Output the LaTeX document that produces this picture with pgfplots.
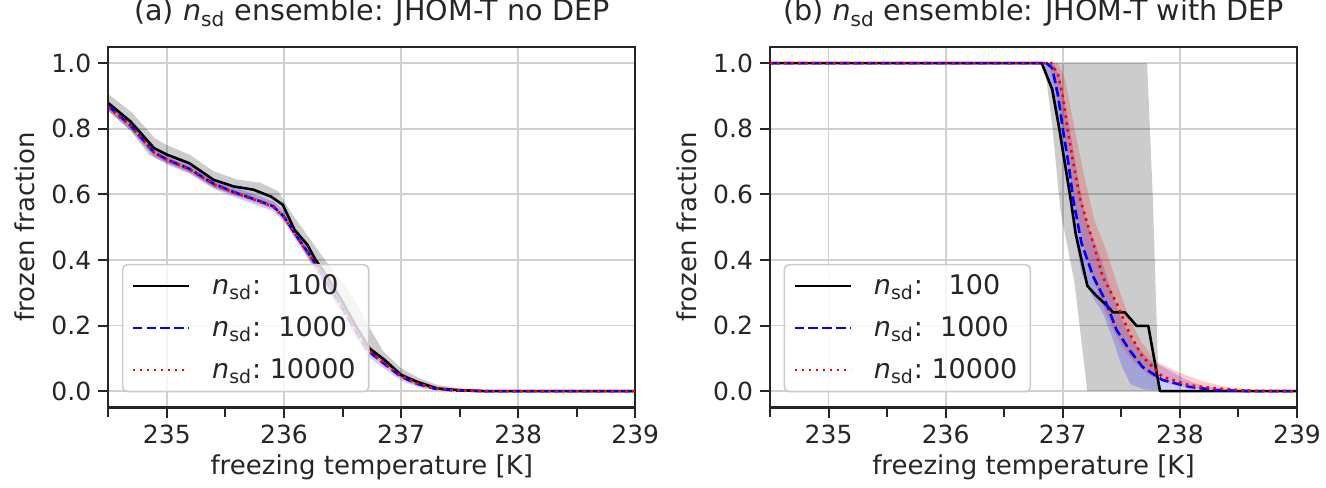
\documentclass[border=0pt]{standalone}
\usepackage{fontspec}
\setmainfont{DejaVu Sans}
\usepackage{pgfplots}
\pgfplotsset{compat=1.18}
\definecolor{textgray}{HTML}{262626}
\definecolor{gridgray}{HTML}{D0D0D0}

\pgfplotsset{
  panel/.style={
    scale only axis, width=263.5pt, height=180.4pt,
    xmin=234.5, xmax=239, ymin=-0.05, ymax=1.05,
    xtick={235,236,237,238,239},
    minor xtick={234.5,235.5,236.5,237.5,238.5},
    ytick={0,0.2,0.4,0.6,0.8,1},
    grid=major, major grid style={draw=gridgray, line width=0.9pt},
    axis line style={draw=textgray, line width=1.1pt},
    tick pos=left, tick align=outside,
    major tick length=5pt, minor tick length=4.5pt,
    every tick/.append style={draw=textgray, line width=1pt},
    /pgf/number format/assume math mode=true,
    tick label style={font=\fontsize{12.5}{15}\selectfont, text=textgray},
    yticklabel style={/pgf/number format/.cd, fixed, fixed zerofill, precision=1},
    xticklabel style={/pgf/number format/.cd, 1000 sep={}},
    label style={font=\fontsize{13}{15.5}\selectfont, text=textgray},
    xlabel style={at={(axis description cs:0.5,-0.166)}, anchor=center},
    ylabel style={at={(axis description cs:-0.1575,0.5)}, anchor=center},
    title style={at={(axis description cs:0.5,1.038)}, anchor=base, font=\fontsize{14.3}{16}\selectfont, text=textgray},
    xlabel={freezing temperature [K]}, ylabel={frozen fraction},
    legend cell align={left},
    legend style={at={(axis description cs:0.0256,0.0416)}, anchor=south west,
      draw=black!20, line width=0.8pt, rounded corners=2.5pt,
      fill=white, fill opacity=0.8, text opacity=1,
      font=\fontsize{13.5}{16}\selectfont, text=textgray,
      row sep=5.5pt, inner xsep=4.5pt, inner ysep=3pt,
      /tikz/every odd column/.append style={column sep=9pt}},
  },
  leg/.style={legend image code/.code={\draw[##1] (0pt,0pt) -- (28pt,0pt);}},
  n100/.style={leg, black, line width=1.3pt, line join=round},
  n1000/.style={leg, blue, line width=1.3pt, dash pattern=on 4.8pt off 2.1pt, line join=round},
  n10000/.style={leg, red, line width=1.3pt, dash pattern=on 1.3pt off 2.2pt, line join=round},
  myband/.style={draw=none, fill=#1, fill opacity=0.2, forget plot},
}

\begin{document}
\begin{tikzpicture}
\path[use as bounding box] (-54.15pt,-39.75pt) rectangle (608.85pt,203.75pt);

% ---------------- (a) no DEP
\begin{axis}[panel, at={(0pt,0pt)}, anchor=south west,
  title={(a) {\itshape n}\textsubscript{sd} ensemble: JHOM-T no DEP}]
% spread of the ensembles: upper edge, then lower edge backwards
\addplot[myband=black] coordinates {(234.5,0.905) (234.7,0.85) (234.9,0.77) (235.0,0.75) (235.2,0.72) (235.4,0.67) (235.6,0.645) (235.8,0.635) (235.95,0.61) (236.05,0.55) (236.15,0.50) (236.25,0.45) (236.35,0.40) (236.5,0.33) (236.62,0.27) (236.72,0.20) (236.85,0.12) (237.0,0.07) (237.15,0.04) (237.3,0.02) (237.5,0.008) (237.7,0.0)
  (237.4,0.0) (237.2,0.01) (237.05,0.03) (236.9,0.07) (236.75,0.115) (236.62,0.18) (236.5,0.25) (236.35,0.32) (236.25,0.38) (236.15,0.44) (236.05,0.51) (235.95,0.56) (235.8,0.58) (235.6,0.595) (235.4,0.62) (235.2,0.665) (235.0,0.695) (234.85,0.72) (234.7,0.79) (234.5,0.855)} -- cycle;
\addplot[myband=blue] coordinates {(234.5,0.884) (234.69,0.825) (234.89,0.743) (235.0,0.721) (235.19,0.693) (235.4,0.647) (235.57,0.622) (235.8,0.593) (235.91,0.578) (236.0,0.547) (236.11,0.488) (236.23,0.428) (236.37,0.35) (236.49,0.28) (236.6,0.21) (236.71,0.145) (236.85,0.10) (237.0,0.058) (237.14,0.032) (237.28,0.014) (237.45,0.005) (237.7,0.001)
  (237.7,0) (237.45,0) (237.28,0.003) (237.14,0.013) (237.0,0.032) (236.85,0.07) (236.71,0.108) (236.6,0.172) (236.49,0.238) (236.37,0.31) (236.23,0.392) (236.11,0.455) (236.0,0.517) (235.91,0.548) (235.8,0.563) (235.57,0.592) (235.4,0.617) (235.19,0.663) (235.0,0.691) (234.89,0.713) (234.69,0.795) (234.5,0.854)} -- cycle;
\addplot[myband=red] coordinates {(234.5,0.874) (234.69,0.816) (234.89,0.735) (235.0,0.713) (235.19,0.685) (235.4,0.638) (235.57,0.614) (235.8,0.585) (235.91,0.570) (236.0,0.538) (236.11,0.478) (236.23,0.416) (236.37,0.338) (236.49,0.268) (236.6,0.20) (236.71,0.136) (236.85,0.095) (237.0,0.052) (237.14,0.028) (237.28,0.012) (237.45,0.004) (237.7,0)
  (237.45,0.001) (237.28,0.006) (237.14,0.018) (237.0,0.04) (236.85,0.079) (236.71,0.12) (236.6,0.184) (236.49,0.252) (236.37,0.322) (236.23,0.40) (236.11,0.462) (236.0,0.522) (235.91,0.554) (235.8,0.569) (235.57,0.598) (235.4,0.622) (235.19,0.669) (235.0,0.697) (234.89,0.719) (234.69,0.80) (234.5,0.858)} -- cycle;

\addplot[n100] coordinates {(234.5,0.878) (234.69,0.822) (234.89,0.741) (235.0,0.721) (235.19,0.695) (235.4,0.644) (235.57,0.624) (235.74,0.614) (235.89,0.593) (235.99,0.568) (236.09,0.492) (236.2,0.446) (236.27,0.40) (236.37,0.349) (236.49,0.278) (236.6,0.207) (236.73,0.13) (236.86,0.095) (237.0,0.049) (237.14,0.028) (237.31,0.008) (237.49,0.003) (237.71,0.0) (239,0)};
\addlegendentry{{\itshape n}\textsubscript{sd}:\ \ \ 100}
\addplot[n1000] coordinates {(234.5,0.869) (234.69,0.81) (234.89,0.728) (235.0,0.706) (235.19,0.678) (235.4,0.632) (235.57,0.607) (235.8,0.578) (235.91,0.563) (236.0,0.532) (236.11,0.471) (236.23,0.41) (236.37,0.33) (236.49,0.258) (236.6,0.19) (236.71,0.125) (236.85,0.085) (237.0,0.044) (237.14,0.022) (237.28,0.008) (237.45,0.002) (237.7,0) (239,0)};
\addlegendentry{{\itshape n}\textsubscript{sd}:\ \ 1000}
\addplot[n10000] coordinates {(234.5,0.866) (234.69,0.808) (234.89,0.727) (235.0,0.705) (235.19,0.677) (235.4,0.63) (235.57,0.606) (235.8,0.577) (235.91,0.562) (236.0,0.53) (236.11,0.47) (236.23,0.408) (236.37,0.33) (236.49,0.26) (236.6,0.192) (236.71,0.128) (236.85,0.087) (237.0,0.046) (237.14,0.023) (237.28,0.009) (237.45,0.003) (237.7,0) (239,0)};
\addlegendentry{{\itshape n}\textsubscript{sd}:\ 10000}
\end{axis}

% ---------------- (b) with DEP
\begin{axis}[panel, at={(330.85pt,0pt)}, anchor=south west,
  title={(b) {\itshape n}\textsubscript{sd} ensemble: JHOM-T with DEP}]
\addplot[myband=black] coordinates {(236.82,1) (237.72,1) (237.77,0.58) (237.82,0) (237.21,0) (237.1,0.33) (236.98,0.55) (236.91,0.81) (236.86,0.95)} -- cycle;
\addplot[myband=blue] coordinates {(236.84,1) (236.92,1) (236.98,0.95) (237.06,0.80) (237.13,0.65) (237.2,0.52) (237.33,0.40) (237.42,0.30) (237.5,0.22) (237.6,0.15) (237.74,0.095) (237.9,0.065) (238.05,0.035) (238.2,0.015) (238.5,0.003) (238.7,0)
  (238.0,0) (237.7,0.005) (237.58,0.02) (237.5,0.08) (237.43,0.156) (237.34,0.24) (237.25,0.29) (237.16,0.36) (237.08,0.52) (237.02,0.66) (236.95,0.82) (236.88,0.95)} -- cycle;
\addplot[myband=red] coordinates {(236.88,1) (236.96,1) (237.02,0.95) (237.1,0.80) (237.18,0.66) (237.27,0.52) (237.37,0.43) (237.47,0.32) (237.57,0.22) (237.67,0.15) (237.8,0.09) (238.0,0.055) (238.2,0.03) (238.4,0.012) (238.7,0.002) (238.9,0)
  (238.5,0) (238.2,0.005) (237.95,0.018) (237.75,0.045) (237.6,0.09) (237.5,0.14) (237.4,0.21) (237.3,0.30) (237.2,0.41) (237.13,0.52) (237.06,0.66) (237.0,0.80) (236.93,0.93)} -- cycle;

\addplot[n100] coordinates {(234.5,1) (236.82,1) (236.91,0.92) (236.97,0.80) (237.02,0.69) (237.07,0.58) (237.11,0.48) (237.16,0.40) (237.21,0.321) (237.28,0.293) (237.37,0.263) (237.43,0.240) (237.53,0.240) (237.63,0.199) (237.73,0.199) (237.83,0.0) (239,0)};
\addlegendentry{{\itshape n}\textsubscript{sd}:\ \ \ 100}
\addplot[n1000] coordinates {(234.5,1) (236.86,1) (236.91,0.985) (236.96,0.90) (237.0,0.80) (237.05,0.69) (237.09,0.583) (237.16,0.451) (237.26,0.349) (237.36,0.278) (237.46,0.186) (237.57,0.125) (237.68,0.074) (237.85,0.034) (238.08,0.013) (238.31,0.003) (238.6,0) (239,0)};
\addlegendentry{{\itshape n}\textsubscript{sd}:\ \ 1000}
\addplot[n10000] coordinates {(234.5,1) (236.9,1) (236.96,0.965) (237.0,0.90) (237.04,0.80) (237.09,0.695) (237.15,0.583) (237.26,0.451) (237.34,0.349) (237.46,0.268) (237.57,0.176) (237.68,0.105) (237.85,0.044) (238.08,0.018) (238.31,0.008) (238.59,0.001) (239,0)};
\addlegendentry{{\itshape n}\textsubscript{sd}:\ 10000}
\end{axis}
\end{tikzpicture}
\end{document}
